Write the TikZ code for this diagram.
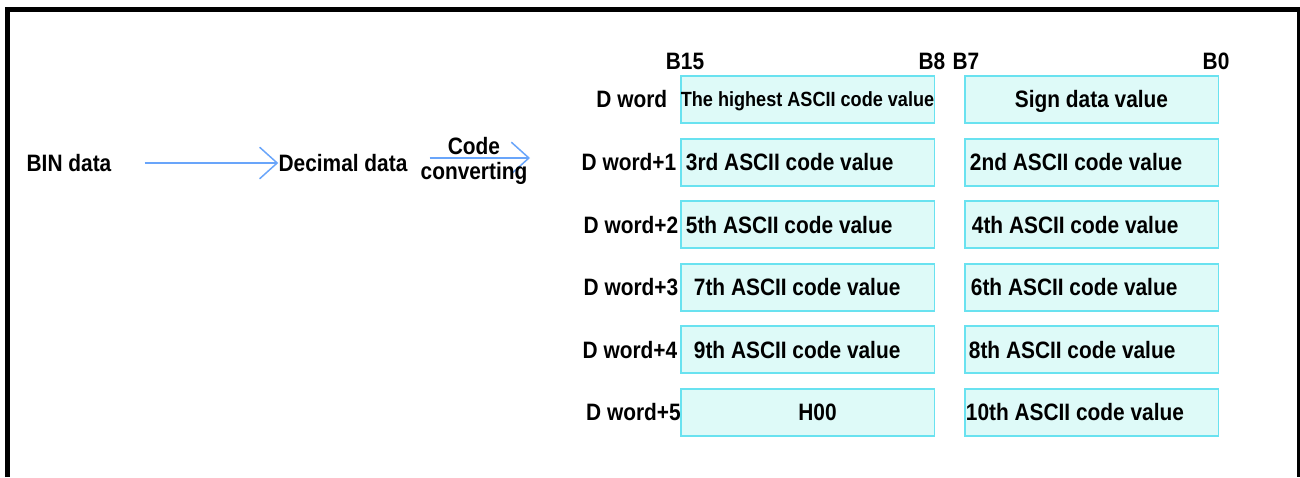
\documentclass[tikz,border=0pt]{standalone}
\usepackage{fontspec}
\setmainfont{Liberation Sans}[FakeStretch=0.88]
\usepackage{xcolor}
\usepackage{tikz}
\usetikzlibrary{positioning,arrows.meta}

\definecolor{cellfill}{RGB}{222,250,248}
\definecolor{cellline}{RGB}{105,226,240}
\definecolor{flowblue}{RGB}{105,165,250}

\begin{document}
\begin{tikzpicture}[x=0.02cm, y=-0.02cm,
        cell/.style={rectangle, draw=cellline, fill=cellfill, line width=1.1pt, minimum width=5.08cm, minimum height=0.94cm, inner sep=0pt},
        txt/.style={font=\bfseries\fontsize{13.5}{16}\selectfont, inner sep=0pt},
        small/.style={font=\bfseries\fontsize{11.7}{14}\selectfont, inner sep=0pt},
        flow/.style={-{Straight Barb[length=10pt, width=18pt]}, draw=flowblue, line width=0.85pt}
    ]
    \useasboundingbox (0,0) rectangle (1300,477);
    % Frame
    \draw[line width=2.3pt] (7.5,477) -- (7.5,9.5) -- (1298.5,9.5) -- (1298.5,477);

    % Input side
    \node[txt] (bin) at (69,163) {BIN data};
    \node[txt] (dec) at (343,163) {Decimal data};
    \coordinate (cend) at (530,158);
    \draw[flow, shorten <=0.66cm] (bin.east) -- (dec.west);
    \draw[flow] (dec.east |- cend) ++(22,0) -- (cend);
    \node[txt] (code) at (474,146) {Code};
    \node[txt] (conv) at (474,173) {converting};

    % Bit headers
    \node[txt] (b15) at (685,61) {B15};
    \node[txt] (b8) at (932,61) {B8};
    \node[txt] (b7) at (966,61) {B7};
    \node[txt] (b0) at (1216,61) {B0};

    % Word rows
    \foreach \i/\lab/\dx in {0/D word/-0.24, 1/D word+1/-0.06, 2/D word+2/-0.02, 3/D word+3/-0.02, 4/D word+4/-0.04, 5/D word+5/0.03} {
        \node[cell] (hi\i) at (807.5, 99.5+62.6*\i) {};
        \node[cell] (lo\i) at (1091.5, 99.5+62.6*\i) {};
        \node[txt, anchor=east] (w\i) at ([xshift=\dx cm]hi\i.west) {\lab};
    }

    % Upper bytes
    \node[small] (t0) at ([yshift=-0.04cm]hi0.center) {The highest ASCII code value};
    \node[txt, anchor=west] (t1) at ([xshift=0.12cm]hi1.west) {3rd ASCII code value};
    \node[txt, anchor=west] (t2) at ([xshift=0.12cm]hi2.west) {5th ASCII code value};
    \node[txt, anchor=west] (t3) at ([xshift=0.28cm]hi3.west) {7th ASCII code value};
    \node[txt, anchor=west] (t4) at ([xshift=0.28cm]hi4.west) {9th ASCII code value};
    \node[txt] (t5) at ([xshift=0.2cm]hi5.center) {H00};

    % Lower bytes
    \node[txt] (s0) at ([yshift=-0.04cm]lo0.center) {Sign data value};
    \node[txt, anchor=west] (s1) at ([xshift=0.12cm]lo1.west) {2nd ASCII code value};
    \node[txt, anchor=west] (s2) at ([xshift=0.16cm]lo2.west) {4th ASCII code value};
    \node[txt, anchor=west] (s3) at ([xshift=0.14cm]lo3.west) {6th ASCII code value};
    \node[txt, anchor=west] (s4) at ([xshift=0.1cm]lo4.west) {8th ASCII code value};
    \node[txt, anchor=west] (s5) at ([xshift=0.04cm]lo5.west) {10th ASCII code value};
\end{tikzpicture}
\end{document}
